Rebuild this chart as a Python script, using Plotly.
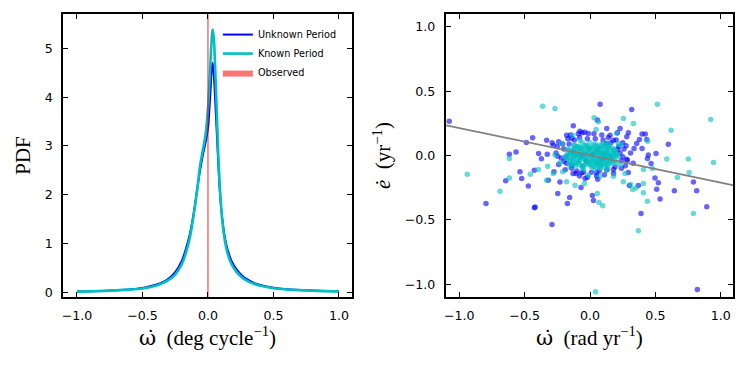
import plotly.graph_objects as go
from plotly.subplots import make_subplots

# left panel: PDF of omega-dot
omega_grid = [-1.0, -0.9, -0.8, -0.7, -0.6, -0.5, -0.4, -0.35, -0.3, -0.25, -0.2, -0.17, -0.14,
              -0.12, -0.1, -0.08, -0.06, -0.04, -0.02, 0.0, 0.01, 0.02, 0.03, 0.036, 0.045, 0.055,
              0.065, 0.075, 0.09, 0.11, 0.13, 0.15, 0.18, 0.22, 0.26, 0.3, 0.35, 0.4, 0.5, 0.6,
              0.7, 0.8, 0.9, 1.0]
pdf_unknown = [0.02, 0.025, 0.035, 0.05, 0.065, 0.095, 0.16, 0.21, 0.29, 0.42, 0.65, 0.88, 1.18,
               1.45, 1.78, 2.15, 2.5, 2.8, 3.05, 3.35, 3.7, 4.15, 4.6, 4.7, 4.45, 3.95,
               3.4, 2.85, 2.1, 1.5, 1.12, 0.88, 0.65, 0.47, 0.35, 0.27, 0.2, 0.155, 0.1, 0.07,
               0.055, 0.042, 0.033, 0.027]
pdf_known = [0.02, 0.025, 0.035, 0.045, 0.06, 0.085, 0.14, 0.19, 0.26, 0.37, 0.58, 0.8, 1.1,
             1.4, 1.75, 2.15, 2.6, 2.9, 3.2, 3.75, 4.2, 4.75, 5.25, 5.38, 5.2, 4.6,
             3.9, 3.1, 2.2, 1.45, 1.05, 0.8, 0.58, 0.42, 0.31, 0.24, 0.18, 0.14, 0.09, 0.065,
             0.05, 0.04, 0.03, 0.025]
obs_omega = 0.0
obs_halfwidth = 0.006

# right panel: edot vs omegadot samples
unk_w = [-1.077, -0.796, -0.617, -0.566, -0.645, -0.523, -0.536, -0.472, -0.487, -0.439, -0.426, -0.42,
         -0.426, -0.372, -0.393, -0.332, -0.327, -0.291, -0.281, -0.319, -0.276, -0.247, -0.23, -0.179,
         -0.156, -0.173, -0.199, -0.128, -0.14, -0.077, -0.061, -0.013, -0.069, 0.018, 0.026, 0.059,
         0.056, 0.077, 0.128, 0.153, 0.179, 0.209, 0.319, 0.293, 0.281, 0.276, 0.286, 0.293, 0.301,
         0.337, 0.357, 0.378, 0.398, 0.423, 0.434, 0.398, 0.446, 0.439, 0.505, 0.467, 0.39, 0.37,
         0.497, 0.523, 0.51, 0.536, 0.599, 0.645, 0.791, 0.816, 0.893, 0.821, 0.23, 0.212, 0.25,
         0.128, 0.102, -0.179, -0.247, -0.24, -0.107, -0.038, -0.14, 0.179, 0.051, -0.064,
         -0.2, -0.18, -0.16, -0.14, -0.12, -0.1, -0.08, -0.05, -0.02, 0.01, 0.04, 0.07, 0.1, 0.13,
         0.16, 0.19, 0.22, 0.24, 0.23, -0.22, -0.06, 0.02, 0.09, -0.13, 0.15, -0.03, 0.06, 0.25,
         -0.25, 0.27,
         -0.21, -0.19, -0.15, -0.09, -0.04, 0.03, 0.09, 0.14, 0.2, 0.26, 0.28, 0.24, 0.18, 0.11,
         0.05, -0.02, -0.08, -0.13, -0.24, -0.26, -0.17, 0.31, -0.29, 0.33]
unk_e = [0.267, -0.373, 0.01, 0.028, -0.197, -0.179, -0.127, -0.238, 0.101, 0.137, -0.407, -0.4,
         -0.114, -0.026, 0.016, 0.119, 0.01, -0.536, 0.08, -0.192, -0.127, -0.295, -0.207, 0.158,
         -0.326, -0.373, -0.044, 0.231, 0.135, 0.189, 0.176, 0.171, -0.249, -0.311, -0.35, -0.184,
         0.275, 0.399, 0.21, 0.158, 0.119, 0.176, 0.358, 0.176, 0.145, 0.075, -0.036, -0.132, -0.233,
         0.054, 0.093, 0.124, 0.168, 0.168, 0.124, 0.054, 0.003, -0.023, 0.016, -0.062, -0.451, -0.233,
         -0.174, -0.212, -0.262, -0.339, 0.088, -0.275, -0.207, -0.275, -0.399, -1.041, 0.21, 0.047, -0.01,
         0.093, 0.016, -0.01, -0.005, 0.106, -0.14, -0.179, -0.075, -0.109, -0.135, -0.135,
         0.05, -0.06, 0.09, -0.1, 0.12, -0.12, 0.14, -0.13, 0.13, -0.13, 0.13, -0.12, 0.12, -0.11,
         0.1, -0.09, 0.07, -0.04, 0.02, -0.02, 0.0, 0.01, -0.03, 0.03, 0.0, -0.04, 0.05, 0.1,
         0.07, -0.08,
         0.09, -0.11, 0.16, 0.17, 0.18, 0.17, 0.16, 0.14, 0.12, 0.05, -0.03, -0.1, -0.14, -0.15,
         -0.16, -0.17, -0.16, -0.14, -0.07, 0.02, 0.13, 0.02, 0.1, -0.06]
kn_w = [-0.939, -0.689, -0.617, -0.617, -0.362, -0.268, -0.457, -0.395, -0.324, -0.332, -0.281, -0.209,
        -0.179, -0.115, -0.133, 0.031, 0.046, 0.064, 0.056, 0.069, 0.097, 0.077, -0.013, -0.043,
        0.153, 0.204, 0.235, 0.255, 0.332, 0.311, 0.327, 0.352, 0.408, 0.439, 0.37, 0.408, 0.408,
        0.441, 0.515, 0.62, 0.587, 0.668, 0.752, 0.758, 0.791, 0.923, 0.944, 0.043, 0.477, 0.255,
        0.23, 0.179, 0.268, -0.268, -0.217, -0.077, -0.153, -0.23, 0.128, 0.179, 0.217, -0.056,
        -0.15, -0.13, -0.12, -0.11, -0.1, -0.09, -0.08, -0.07, -0.06, -0.05, -0.04, -0.03, -0.02,
        -0.01, 0.0, 0.01, 0.02, 0.03, 0.04, 0.05, 0.06, 0.07, 0.08, 0.09, 0.1, 0.11, 0.12, 0.13,
        0.14, 0.15, 0.16, 0.17, 0.18, 0.19, -0.14, -0.12, -0.09, -0.06, -0.03, 0.0, 0.02, 0.05,
        0.08, 0.11, 0.14, -0.17, -0.18, 0.21, 0.2, -0.05, 0.04, 0.1, -0.08, 0.06, -0.01, 0.13,
        -0.11, 0.03, 0.07, -0.04,
        -0.12, -0.04, 0.03, 0.09, 0.15,
        -0.16, -0.1, -0.02, 0.05, 0.12, 0.18,
        -0.18, -0.13, -0.07, -0.01, 0.06, 0.11, 0.16, 0.2,
        -0.15, -0.09, -0.03, 0.04, 0.09, 0.15, 0.19,
        -0.11, -0.05, 0.02, 0.08, 0.14,
        -0.07, 0.0, 0.07, 0.13,
        -0.12, -0.01, 0.05, 0.11, 0.17,
        -0.14, -0.05, 0.03, 0.09, 0.14,
        -0.16, -0.08, 0.0, 0.07, 0.13, 0.17,
        -0.1, -0.02, 0.05, 0.11,
        -0.13, -0.06, 0.01, 0.08, 0.15,
        -0.17, -0.09, -0.02, 0.06, 0.12, 0.19,
        -0.15, -0.1, -0.04, 0.02, 0.08, 0.13, 0.18,
        -0.19, -0.12, -0.06, 0.03, 0.1, 0.15, 0.21,
        -0.13, -0.05, 0.01, 0.06, 0.12, 0.17,
        -0.16, -0.09, -0.03, 0.03, 0.08, 0.14,
        -0.08, 0.0, 0.07, 0.12,
        -0.06, 0.04, 0.1]
kn_e = [-0.145, -0.277, -0.023, -0.174, 0.383, 0.365, -0.145, -0.109, -0.083, -0.192, -0.14, -0.127,
        -0.205, -0.231, 0.158, 0.293, 0.202, 0.262, -0.295, -0.365, -0.391, -0.161, -0.153, -0.218,
        -0.036, 0.171, 0.08, 0.288, 0.249, -0.225, -0.264, -0.251, -0.29, -0.355, -0.585, -0.218, -0.109,
        0.111, 0.399, 0.197, -0.028, -0.171, -0.028, -0.132, -0.451, 0.28, -0.054, -1.06, -0.101, -0.205,
        -0.075, -0.161, -0.14, 0.003, 0.093, 0.119, -0.088, -0.057, -0.114, 0.054, 0.093, -0.088,
        0.02, -0.03, 0.05, -0.06, 0.01, 0.07, -0.04, 0.03, -0.08, 0.05, -0.02, 0.08, 0.0,
        -0.05, 0.03, -0.09, 0.06, -0.01, 0.09, -0.06, 0.02, -0.03, 0.05, -0.07, 0.01, 0.07, -0.04, 0.03,
        -0.02, 0.06, -0.05, 0.02, -0.01, 0.04, -0.07, 0.08, -0.01, 0.1, -0.07, 0.1, -0.04, 0.04,
        -0.1, -0.01, 0.09, 0.05, -0.02, 0.01, -0.06, -0.11, -0.11, 0.1, 0.06, -0.08, 0.05, -0.08,
        0.0, 0.02, 0.08, 0.01,
        0.08, 0.08, 0.08, 0.08, 0.08,
        0.04, 0.04, 0.04, 0.04, 0.04, 0.04,
        0.0, 0.0, 0.0, 0.0, 0.0, 0.0, 0.0, 0.0,
        -0.04, -0.04, -0.04, -0.04, -0.04, -0.04, -0.04,
        -0.08, -0.08, -0.08, -0.08, -0.08,
        0.06, 0.06, 0.06, 0.06,
        -0.06, -0.06, -0.06, -0.06, -0.06,
        0.02, 0.02, 0.02, 0.02, 0.02,
        -0.02, -0.02, -0.02, -0.02, -0.02, -0.02,
        0.07, 0.07, 0.07, 0.07,
        0.05, 0.05, 0.05, 0.05, 0.05,
        0.03, 0.03, 0.03, 0.03, 0.03, 0.03,
        0.01, 0.01, 0.01, 0.01, 0.01, 0.01, 0.01,
        -0.01, -0.01, -0.01, -0.01, -0.01, -0.01, -0.01,
        -0.03, -0.03, -0.03, -0.03, -0.03, -0.03,
        -0.05, -0.05, -0.05, -0.05, -0.05, -0.05,
        -0.07, -0.07, -0.07, -0.07,
        -0.09, -0.09, -0.09]
fit_w = [-1.1, 1.1]
fit_e = [0.235, -0.232]

BLUE = 'rgb(0,0,255)'
CYAN = 'rgb(0,191,191)'
TICKFONT = dict(family='DejaVu Sans', size=12.6, color='black')
TITLEFONT = dict(family='Liberation Serif', size=21, color='black')
DOT_OMEGA = '<span style="font-family:DejaVu Serif">ω̇</span>'

fig = make_subplots(rows=1, cols=2)

fig.add_trace(go.Scatter(x=omega_grid, y=pdf_unknown, mode='lines', line=dict(color=BLUE, width=2, shape='spline'),
                         name='Unknown Period'), row=1, col=1)
fig.add_trace(go.Scatter(x=omega_grid, y=pdf_known, mode='lines', line=dict(color=CYAN, width=2.6, shape='spline'),
                         name='Known Period'), row=1, col=1)
ylo, yhi = -0.09, 5.7
fig.add_trace(go.Scatter(x=[obs_omega - obs_halfwidth, obs_omega + obs_halfwidth, obs_omega + obs_halfwidth, obs_omega - obs_halfwidth],
                         y=[ylo, ylo, yhi, yhi], fill='toself', fillcolor='rgba(255,0,0,0.55)', mode='lines',
                         line=dict(width=0), name='Observed', hoverinfo='skip'), row=1, col=1)

fig.add_trace(go.Scatter(x=unk_w, y=unk_e, mode='markers', showlegend=False,
                         marker=dict(color=BLUE, size=5.5, opacity=0.6, line=dict(width=0))), row=1, col=2)
fig.add_trace(go.Scatter(x=kn_w, y=kn_e, mode='markers', showlegend=False,
                         marker=dict(color=CYAN, size=5.5, opacity=0.6, line=dict(width=0))), row=1, col=2)
fig.add_trace(go.Scatter(x=fit_w, y=fit_e, mode='lines', showlegend=False,
                         line=dict(color='gray', width=1.8)), row=1, col=2)

axis_style = dict(showline=True, linecolor='black', linewidth=1.6, mirror='ticks', ticks='inside',
                  ticklen=5, tickwidth=1.3, tickcolor='black', showgrid=False, zeroline=False,
                  tickfont=TICKFONT, automargin=False)

fig.update_xaxes(axis_style)
fig.update_yaxes(axis_style)

# the page body adds an 8px offset, so the figure is sized and placed to compensate
fig.update_xaxes(domain=[0.0744, 0.4655], range=[-1.107, 1.1], tickvals=[-1, -0.5, 0, 0.5, 1], tickformat='.1f',
                 ticklabelstandoff=6,
                 title=dict(text=DOT_OMEGA + '  (deg cycle<sup>−1</sup>)', font=TITLEFONT, standoff=4), row=1, col=1)
fig.update_yaxes(domain=[0.2104, 0.9836], range=[ylo, yhi], tickvals=[0, 1, 2, 3, 4, 5],
                 ticklabelstandoff=6,
                 title=dict(text='PDF', font=TITLEFONT, standoff=8), row=1, col=1)
fig.update_xaxes(domain=[0.5923, 0.9811], range=[-1.104, 1.094], tickvals=[-1, -0.5, 0, 0.5, 1], tickformat='.1f',
                 ticklabelstandoff=6,
                 title=dict(text=DOT_OMEGA + '  (rad yr<sup>−1</sup>)', font=TITLEFONT, standoff=4), row=1, col=2)
fig.update_yaxes(domain=[0.2104, 0.9836], range=[-1.1, 1.1], tickvals=[-1, -0.5, 0, 0.5, 1], tickformat='.1f',
                 ticklabelstandoff=6,
                 title=dict(text='<i>ė</i>  (yr<sup>−1</sup>)', font=TITLEFONT, standoff=8), row=1, col=2)

fig.update_layout(width=739, height=366, margin=dict(l=0, r=0, t=0, b=0),
                  paper_bgcolor='white', plot_bgcolor='white',
                  legend=dict(x=0.284, y=0.967, xanchor='left', yanchor='top', bgcolor='rgba(0,0,0,0)',
                              font=dict(family='DejaVu Sans', size=9.7, color='black'),
                              tracegroupgap=0, itemwidth=30))
fig.write_html("out.html")
